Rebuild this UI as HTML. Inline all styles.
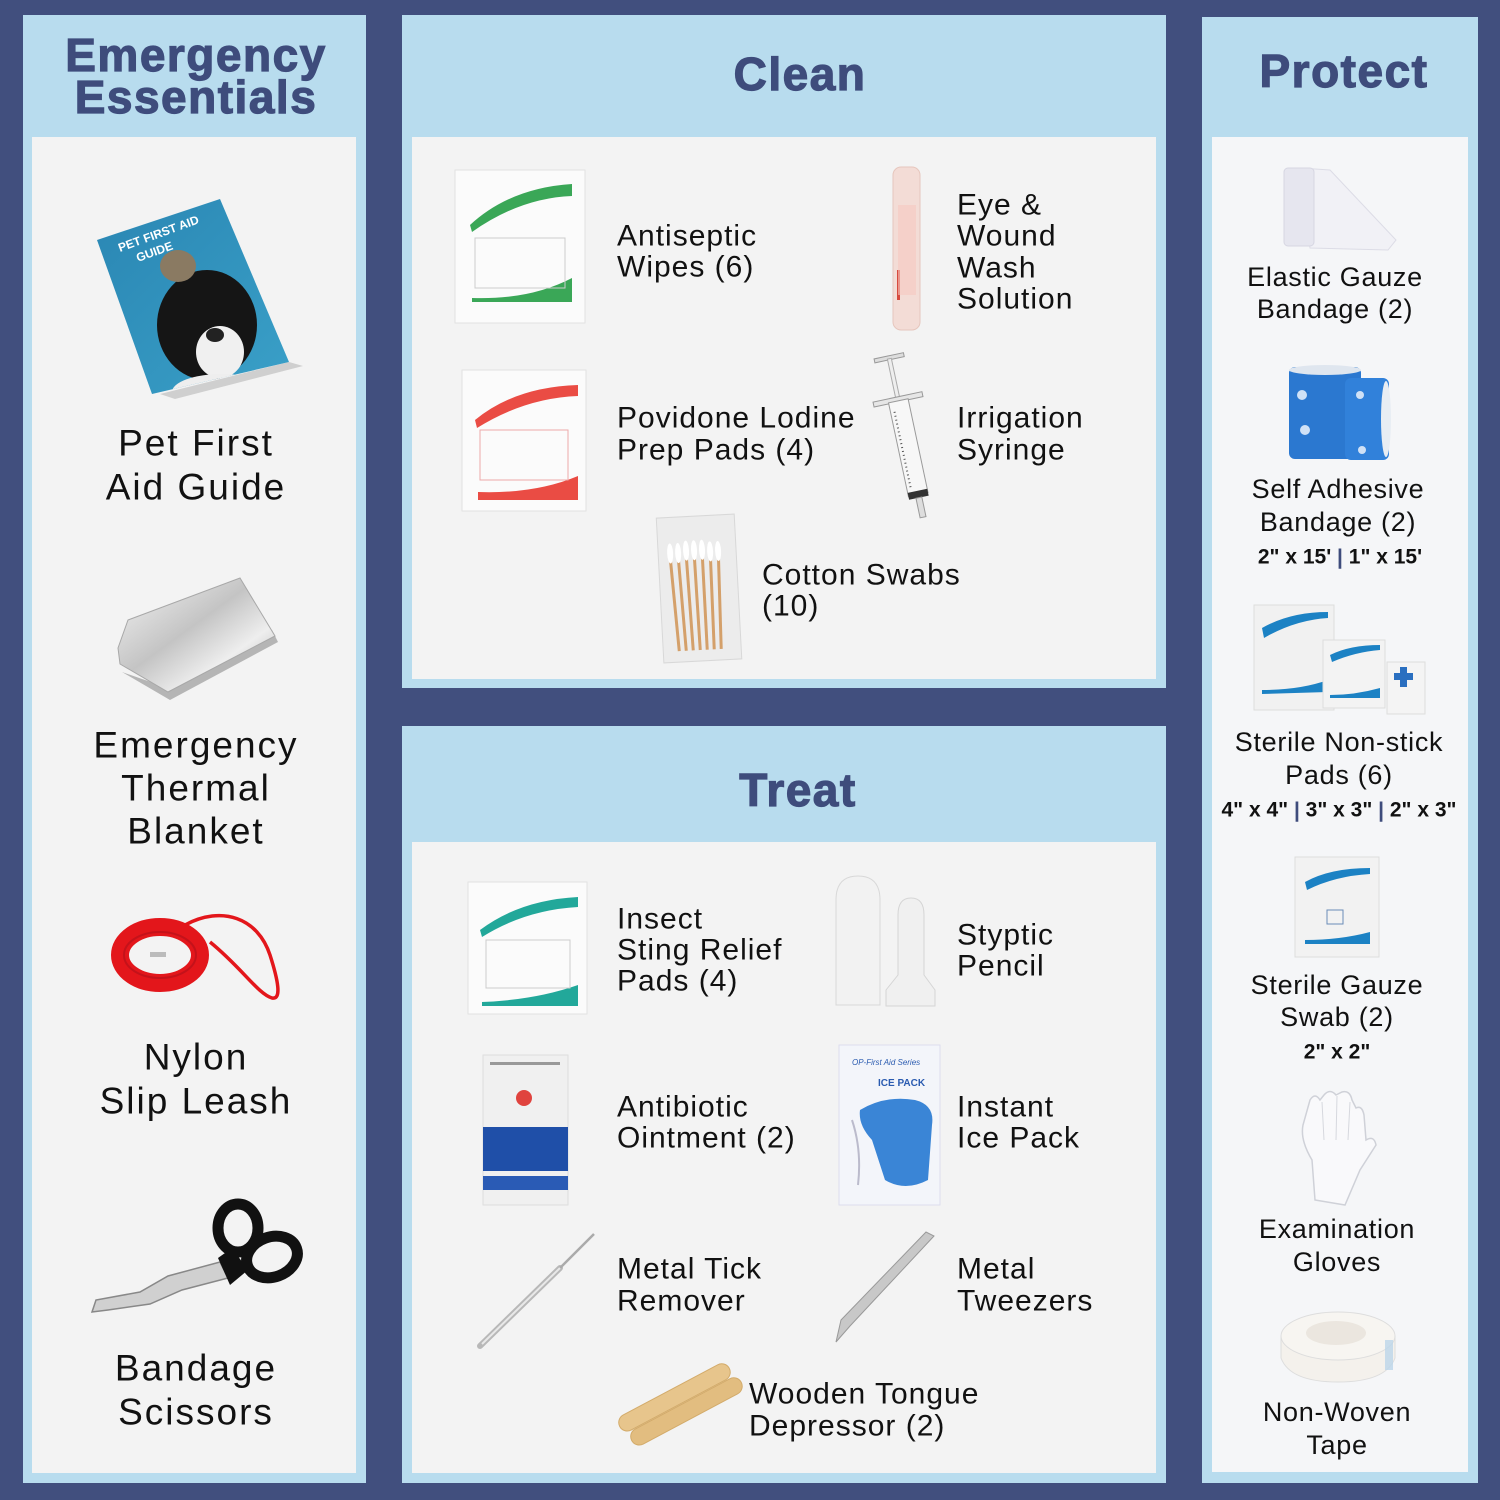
<!DOCTYPE html>
<html><head><meta charset="utf-8"><style>
html,body{margin:0;padding:0;background:#414f7e;}
svg{display:block;}
text{font-family:"Liberation Sans",Arial,sans-serif;}
.t{fill:#3e4c7c;font-weight:bold;font-size:46px;letter-spacing:1.5px;stroke:#3e4c7c;stroke-width:1.2px;}
.l{fill:#111;font-size:37px;letter-spacing:2px;}
.m{fill:#111;font-size:30px;letter-spacing:1px;}
.r{fill:#111;font-size:27px;letter-spacing:0.7px;}
.b{fill:#111;font-size:21px;font-weight:bold;}
</style></head><body>
<svg width="1500" height="1500" viewBox="0 0 1500 1500" xmlns="http://www.w3.org/2000/svg">
<defs>
<linearGradient id="silver" x1="0" y1="0" x2="1" y2="1"><stop offset="0" stop-color="#f4f4f4"/><stop offset=".45" stop-color="#c4c4c4"/><stop offset=".7" stop-color="#eeeeee"/><stop offset="1" stop-color="#a9a9a9"/></linearGradient>
<linearGradient id="bookg" x1="0" y1="0" x2="1" y2="1"><stop offset="0" stop-color="#2a86b3"/><stop offset="1" stop-color="#3aa0c8"/></linearGradient>
<clipPath id="bookclip"><polygon points="97,240 220,199 289,362 152,394"/></clipPath>
</defs>
<rect width="1500" height="1500" fill="#414f7e"/>
<!-- panels -->
<rect x="23" y="15" width="343" height="1468" fill="#b8dcee"/>
<rect x="32" y="137" width="324" height="1336" fill="#f3f3f3"/>
<rect x="402" y="15" width="764" height="673" fill="#b8dcee"/>
<rect x="412" y="137" width="744" height="542" fill="#f3f3f3"/>
<rect x="402" y="726" width="764" height="757" fill="#b8dcee"/>
<rect x="412" y="842" width="744" height="631" fill="#f3f3f3"/>
<rect x="1202" y="17" width="276" height="1466" fill="#b8dcee"/>
<rect x="1212" y="137" width="256" height="1335" fill="#f5f6f8"/>

<!-- titles -->
<text class="t" x="196" y="71" text-anchor="middle">Emergency</text>
<text class="t" x="196" y="113" text-anchor="middle">Essentials</text>
<text class="t" x="800" y="90" text-anchor="middle">Clean</text>
<text class="t" x="1344" y="87" text-anchor="middle">Protect</text>
<text class="t" x="798" y="806" text-anchor="middle">Treat</text>

<!-- LEFT: book -->
<polygon points="160,394 289,362 303,366 175,399" fill="#cfcfcf"/>
<polygon points="97,240 220,199 289,362 152,394" fill="url(#bookg)"/>
<g clip-path="url(#bookclip)">
<ellipse cx="207" cy="325" rx="50" ry="55" fill="#151515"/>
<ellipse cx="220" cy="352" rx="24" ry="26" fill="#f0f0f0"/>
<ellipse cx="215" cy="335" rx="9" ry="7" fill="#222"/>
<ellipse cx="222" cy="392" rx="50" ry="18" fill="#eeeeee"/>
<ellipse cx="178" cy="266" rx="18" ry="16" fill="#8a7a62"/>
</g>
<text x="120" y="252" fill="#fff" font-size="12" font-weight="bold" transform="rotate(-20 120 252)">PET FIRST AID</text>
<text x="138" y="262" fill="#fff" font-size="12" font-weight="bold" transform="rotate(-20 138 262)">GUIDE</text>
<text class="l" x="196" y="443" text-anchor="middle" dominant-baseline="central">Pet First</text>
<text class="l" x="196" y="487" text-anchor="middle" dominant-baseline="central">Aid Guide</text>

<!-- thermal blanket -->
<polygon points="122,672 170,700 278,642 272,630 168,688" fill="#b5b5b5"/>
<polygon points="128,620 240,578 275,636 168,692 120,664 118,648" fill="url(#silver)" stroke="#a8a8a8" stroke-width="1"/>
<text class="l" x="196" y="745" text-anchor="middle" dominant-baseline="central">Emergency</text>
<text class="l" x="196" y="788" text-anchor="middle" dominant-baseline="central">Thermal</text>
<text class="l" x="196" y="831" text-anchor="middle" dominant-baseline="central">Blanket</text>

<!-- leash -->
<ellipse cx="160" cy="955" rx="40" ry="28" fill="none" stroke="#e3161b" stroke-width="18"/>
<ellipse cx="160" cy="955" rx="36" ry="23" fill="none" stroke="#c4121a" stroke-width="2"/>
<rect x="150" y="952" width="16" height="5" fill="#bbb"/>
<path d="M185,925 C222,905 258,918 270,955 C278,980 282,1000 272,998 C258,994 242,968 210,942" fill="none" stroke="#e3161b" stroke-width="3.5"/>
<text class="l" x="196" y="1057" text-anchor="middle" dominant-baseline="central">Nylon</text>
<text class="l" x="196" y="1101" text-anchor="middle" dominant-baseline="central">Slip Leash</text>

<!-- scissors -->
<polygon points="92,1312 96,1300 140,1292 168,1276 220,1262 228,1278 182,1290 150,1304 108,1310" fill="#d0d0d0" stroke="#888" stroke-width="1.5"/>
<ellipse cx="238" cy="1228" rx="20" ry="24" fill="none" stroke="#111" stroke-width="11"/>
<ellipse cx="272" cy="1257" rx="26" ry="20" fill="none" stroke="#111" stroke-width="11" transform="rotate(-20 272 1257)"/>
<polygon points="218,1258 232,1248 248,1270 230,1285" fill="#111"/>
<text class="l" x="196" y="1368" text-anchor="middle" dominant-baseline="central">Bandage</text>
<text class="l" x="196" y="1412" text-anchor="middle" dominant-baseline="central">Scissors</text>

<!-- CLEAN -->
<!-- antiseptic wipe -->
<rect x="455" y="170" width="130" height="153" fill="#fbfbfb" stroke="#e2e2e2"/>
<path d="M470,225 Q510,188 572,184 L572,196 Q520,198 472,232 Z" fill="#3aa757"/>
<path d="M472,298 Q530,300 572,278 L572,302 L472,302 Z" fill="#3aa757"/>
<rect x="475" y="238" width="90" height="50" fill="none" stroke="#ccc"/>
<text class="m" x="617" y="236" dominant-baseline="central">Antiseptic</text>
<text class="m" x="617" y="267" dominant-baseline="central">Wipes (6)</text>
<!-- vial -->
<rect x="893" y="167" width="27" height="163" rx="8" fill="#f3dcd6" stroke="#e6c6bd"/>
<rect x="897" y="270" width="3" height="30" fill="#d74a3e"/>
<rect x="898" y="205" width="18" height="90" fill="#f6c8bf" opacity=".6"/>
<text class="m" x="957" y="205" dominant-baseline="central">Eye &amp;</text>
<text class="m" x="957" y="236" dominant-baseline="central">Wound</text>
<text class="m" x="957" y="268" dominant-baseline="central">Wash</text>
<text class="m" x="957" y="299" dominant-baseline="central">Solution</text>
<!-- povidone -->
<rect x="462" y="370" width="124" height="141" fill="#fbfbfb" stroke="#e2e2e2"/>
<path d="M475,420 Q515,387 578,385 L578,396 Q525,398 477,428 Z" fill="#ea4c44"/>
<path d="M478,492 Q535,494 578,476 L578,500 L478,500 Z" fill="#ea4c44"/>
<rect x="480" y="430" width="88" height="50" fill="none" stroke="#eaa"/>
<text class="m" x="617" y="418" dominant-baseline="central">Povidone Lodine</text>
<text class="m" x="617" y="450" dominant-baseline="central">Prep Pads (4)</text>
<!-- syringe -->
<g transform="rotate(-12 906 437)">
<rect x="891" y="354" width="30" height="4" fill="#ddd" stroke="#999"/>
<rect x="904" y="357" width="4" height="42" fill="#eee" stroke="#aaa"/>
<rect x="881" y="396" width="50" height="5" fill="#e6e6e6" stroke="#999"/>
<rect x="896" y="400" width="20" height="96" fill="#f7f7f7" stroke="#9a9a9a"/>
<line x1="900" y1="410" x2="900" y2="490" stroke="#555" stroke-width="2" stroke-dasharray="1 3"/>
<rect x="896" y="492" width="20" height="7" fill="#333"/>
<rect x="903" y="499" width="6" height="20" fill="#ddd" stroke="#999"/>
</g>
<text class="m" x="957" y="418" dominant-baseline="central">Irrigation</text>
<text class="m" x="957" y="450" dominant-baseline="central">Syringe</text>
<!-- cotton swabs -->
<g transform="rotate(-3 699 588)">
<rect x="660" y="516" width="78" height="145" fill="#ececec" stroke="#d8d8d8"/>
<g stroke="#d4a06a" stroke-width="3">
<line x1="672" y1="560" x2="676" y2="650"/><line x1="680" y1="560" x2="683" y2="650"/><line x1="688" y1="558" x2="690" y2="650"/><line x1="696" y1="558" x2="697" y2="650"/><line x1="704" y1="558" x2="704" y2="650"/><line x1="712" y1="560" x2="711" y2="650"/><line x1="720" y1="560" x2="718" y2="650"/>
</g>
<g fill="#fff"><ellipse cx="672" cy="552" rx="3" ry="10"/><ellipse cx="680" cy="552" rx="3" ry="10"/><ellipse cx="688" cy="550" rx="3" ry="10"/><ellipse cx="696" cy="550" rx="3" ry="10"/><ellipse cx="704" cy="550" rx="3" ry="10"/><ellipse cx="712" cy="552" rx="3" ry="10"/><ellipse cx="720" cy="552" rx="3" ry="10"/></g>
</g>
<text class="m" x="762" y="575" dominant-baseline="central">Cotton Swabs</text>
<text class="m" x="762" y="606" dominant-baseline="central">(10)</text>

<!-- TREAT -->
<!-- insect pad -->
<rect x="468" y="882" width="119" height="132" fill="#fbfbfb" stroke="#e2e2e2"/>
<path d="M480,930 Q520,900 578,897 L578,907 Q525,910 482,937 Z" fill="#22a89a"/>
<path d="M482,1002 Q535,1000 578,985 L578,1006 L482,1006 Z" fill="#22a89a"/>
<rect x="486" y="940" width="84" height="48" fill="none" stroke="#ccc"/>
<text class="m" x="617" y="919" dominant-baseline="central">Insect</text>
<text class="m" x="617" y="950" dominant-baseline="central">Sting Relief</text>
<text class="m" x="617" y="981" dominant-baseline="central">Pads (4)</text>
<!-- styptic -->
<path d="M836,1005 L836,900 Q836,876 858,876 Q880,876 880,900 L880,1005 Z" fill="#f2f2f2" stroke="#d8d8d8"/>
<path d="M898,975 L898,915 Q898,898 911,898 Q924,898 924,915 L924,975 L935,990 L935,1006 L886,1006 L886,990 Z" fill="#f0f0f0" stroke="#d5d5d5"/>
<text class="m" x="957" y="935" dominant-baseline="central">Styptic</text>
<text class="m" x="957" y="966" dominant-baseline="central">Pencil</text>
<!-- antibiotic -->
<rect x="483" y="1055" width="85" height="150" fill="#f0f0f0" stroke="#ddd"/>
<circle cx="524" cy="1098" r="8" fill="#e0433e"/>
<rect x="483" y="1127" width="85" height="44" fill="#1f4fa8"/>
<rect x="483" y="1176" width="85" height="14" fill="#2a5bb5"/>
<rect x="490" y="1062" width="70" height="3" fill="#999"/>
<text class="m" x="617" y="1107" dominant-baseline="central">Antibiotic</text>
<text class="m" x="617" y="1138" dominant-baseline="central">Ointment (2)</text>
<!-- ice pack -->
<rect x="839" y="1045" width="101" height="160" fill="#f3f5fa" stroke="#dde"/>
<path d="M860,1110 Q885,1095 915,1100 Q935,1105 932,1125 L928,1180 Q905,1192 885,1180 L872,1140 Q858,1125 860,1110 Z" fill="#3a85d6"/>
<path d="M852,1120 Q862,1150 858,1185" fill="none" stroke="#bbc" stroke-width="2"/>
<text x="852" y="1065" font-size="8" fill="#2a5bb0" font-style="italic">OP-First Aid Series</text>
<text x="878" y="1086" font-size="10" fill="#2a5bb0" font-weight="bold">ICE PACK</text>
<text class="m" x="957" y="1107" dominant-baseline="central">Instant</text>
<text class="m" x="957" y="1138" dominant-baseline="central">Ice Pack</text>
<!-- tick remover -->
<line x1="480" y1="1346" x2="560" y2="1268" stroke="#b8b8b8" stroke-width="6" stroke-linecap="round"/>
<line x1="560" y1="1268" x2="594" y2="1234" stroke="#aaa" stroke-width="2.5"/>
<line x1="482" y1="1344" x2="560" y2="1268" stroke="#e8e8e8" stroke-width="2"/>
<text class="m" x="617" y="1269" dominant-baseline="central">Metal Tick</text>
<text class="m" x="617" y="1301" dominant-baseline="central">Remover</text>
<!-- tweezers -->
<polygon points="836,1342 841,1320 926,1232 934,1236 850,1326" fill="#c8c8c8" stroke="#999"/>
<text class="m" x="957" y="1269" dominant-baseline="central">Metal</text>
<text class="m" x="957" y="1301" dominant-baseline="central">Tweezers</text>
<!-- tongue depressors -->
<g transform="rotate(-28 678 1404)">
<rect x="616" y="1388" width="124" height="17" rx="8.5" fill="#e7c58c" stroke="#d3ab6a"/>
<rect x="620" y="1406" width="124" height="17" rx="8.5" fill="#e2bd80" stroke="#d3ab6a"/>
</g>
<text class="m" x="749" y="1394" dominant-baseline="central">Wooden Tongue</text>
<text class="m" x="749" y="1426" dominant-baseline="central">Depressor (2)</text>

<!-- PROTECT -->
<!-- elastic gauze -->
<polygon points="1300,168 1330,170 1396,240 1388,250 1310,248" fill="#f1f1f6" stroke="#dcdce6"/>
<rect x="1284" y="168" width="30" height="78" rx="4" fill="#e6e6ef" stroke="#d6d6e2"/>
<text class="r" x="1335" y="277" text-anchor="middle" dominant-baseline="central">Elastic Gauze</text>
<text class="r" x="1335" y="309" text-anchor="middle" dominant-baseline="central">Bandage (2)</text>
<!-- blue bandage -->
<rect x="1289" y="367" width="72" height="92" rx="6" fill="#2b78d0"/>
<ellipse cx="1325" cy="370" rx="36" ry="5" fill="#dfe6ef"/>
<rect x="1345" y="378" width="44" height="82" rx="6" fill="#3181da"/>
<ellipse cx="1386" cy="419" rx="5" ry="38" fill="#e8edf3"/>
<g fill="#cfe1f6"><circle cx="1302" cy="395" r="5"/><circle cx="1305" cy="430" r="5"/><circle cx="1360" cy="395" r="4"/><circle cx="1362" cy="450" r="4"/></g>
<text class="r" x="1338" y="489" text-anchor="middle" dominant-baseline="central">Self Adhesive</text>
<text class="r" x="1338" y="522" text-anchor="middle" dominant-baseline="central">Bandage (2)</text>
<text class="b" x="1340" y="557" text-anchor="middle" dominant-baseline="central">2" x 15' <tspan fill="#3e4c7c">|</tspan> 1" x 15'</text>
<!-- non-stick pads -->
<rect x="1254" y="605" width="80" height="105" fill="#f1f1f1" stroke="#ddd"/>
<path d="M1262,628 Q1290,612 1328,612 L1328,618 Q1295,620 1264,638 Z" fill="#1c82c4"/>
<path d="M1262,690 Q1300,690 1328,680 L1328,692 L1262,694 Z" fill="#1c82c4"/>
<rect x="1323" y="640" width="62" height="68" fill="#f3f3f3" stroke="#ddd"/>
<path d="M1330,655 Q1350,645 1380,645 L1380,650 Q1355,652 1332,662 Z" fill="#1c82c4"/>
<path d="M1330,695 Q1355,695 1380,688 L1380,698 L1330,698 Z" fill="#1c82c4"/>
<rect x="1387" y="662" width="38" height="52" fill="#f4f4f4" stroke="#ddd"/>
<rect x="1400" y="667" width="7" height="20" fill="#2a6fc0"/><rect x="1394" y="673" width="19" height="7" fill="#2a6fc0"/>
<text class="r" x="1339" y="742" text-anchor="middle" dominant-baseline="central">Sterile Non-stick</text>
<text class="r" x="1339" y="775" text-anchor="middle" dominant-baseline="central">Pads (6)</text>
<text class="b" x="1339" y="810" text-anchor="middle" dominant-baseline="central">4" x 4" <tspan fill="#3e4c7c">|</tspan> 3" x 3" <tspan fill="#3e4c7c">|</tspan> 2" x 3"</text>
<!-- gauze swab -->
<rect x="1295" y="857" width="84" height="100" fill="#f2f2f2" stroke="#ddd"/>
<path d="M1305,882 Q1330,868 1370,868 L1370,874 Q1335,876 1307,890 Z" fill="#1c82c4"/>
<path d="M1305,940 Q1340,940 1370,932 L1370,944 L1305,944 Z" fill="#1c82c4"/>
<rect x="1327" y="910" width="16" height="14" fill="none" stroke="#6a8cb8"/>
<text class="r" x="1337" y="985" text-anchor="middle" dominant-baseline="central">Sterile Gauze</text>
<text class="r" x="1337" y="1017" text-anchor="middle" dominant-baseline="central">Swab (2)</text>
<text class="b" x="1337" y="1052" text-anchor="middle" dominant-baseline="central">2" x 2"</text>
<!-- gloves -->
<path d="M1315,1200 L1312,1160 Q1300,1140 1303,1125 L1310,1100 Q1315,1092 1320,1100 L1324,1095 Q1330,1088 1336,1095 L1342,1092 Q1350,1090 1352,1100 L1356,1108 Q1362,1105 1364,1115 L1366,1140 Q1374,1135 1376,1145 L1360,1170 L1345,1205 Z" fill="#f9f9fb" stroke="#cfd1d8" stroke-width="1.5"/>
<line x1="1322" y1="1102" x2="1324" y2="1140" stroke="#d6d8de"/><line x1="1337" y1="1096" x2="1336" y2="1140" stroke="#d6d8de"/><line x1="1350" y1="1102" x2="1348" y2="1140" stroke="#d6d8de"/>
<text class="r" x="1337" y="1229" text-anchor="middle" dominant-baseline="central">Examination</text>
<text class="r" x="1337" y="1262" text-anchor="middle" dominant-baseline="central">Gloves</text>
<!-- tape -->
<path d="M1281,1336 L1281,1358 Q1290,1382 1338,1382 Q1386,1382 1395,1358 L1395,1336 Z" fill="#f4f1ec" stroke="#ddd"/>
<ellipse cx="1338" cy="1336" rx="57" ry="24" fill="#f7f5f1" stroke="#ddd"/>
<ellipse cx="1336" cy="1333" rx="30" ry="12" fill="#ebe6df"/>
<rect x="1385" y="1340" width="8" height="30" fill="#bcd6ea" opacity=".8"/>
<text class="r" x="1337" y="1412" text-anchor="middle" dominant-baseline="central">Non-Woven</text>
<text class="r" x="1337" y="1445" text-anchor="middle" dominant-baseline="central">Tape</text>
</svg>
</body></html>
